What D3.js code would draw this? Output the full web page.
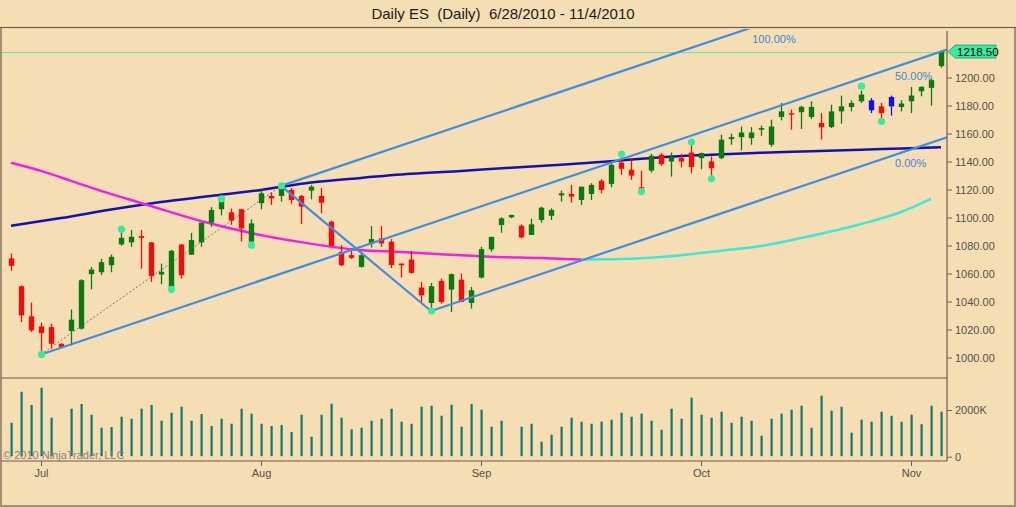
<!DOCTYPE html>
<html>
<head>
<meta charset="utf-8">
<script src="https://cdn.jsdelivr.net/npm/d3@7"></script>
<style>
  html, body { margin: 0; padding: 0; background: #f5deb3; }
  svg { display: block; font-family: "Liberation Sans", Arial, sans-serif; }
</style>
</head>
<body>
<svg id="chart" width="1016" height="507"></svg>
<script>
// ---------- DATA ----------
const dates = ["6/28","6/29","6/30","7/1","7/2","7/5","7/6","7/7","7/8","7/9",
  "7/12","7/13","7/14","7/15","7/16","7/19","7/20","7/21","7/22","7/23",
  "7/26","7/27","7/28","7/29","7/30","8/2","8/3","8/4","8/5","8/6",
  "8/9","8/10","8/11","8/12","8/13","8/16","8/17","8/18","8/19","8/20",
  "8/23","8/24","8/25","8/26","8/27","8/30","8/31","9/1","9/2","9/3",
  "9/6","9/7","9/8","9/9","9/10","9/13","9/14","9/15","9/16","9/17",
  "9/20","9/21","9/22","9/23","9/24","9/27","9/28","9/29","9/30","10/1",
  "10/4","10/5","10/6","10/7","10/8","10/11","10/12","10/13","10/14","10/15",
  "10/18","10/19","10/20","10/21","10/22","10/25","10/26","10/27","10/28","10/29",
  "11/1","11/2","11/3","11/4"];

const openP = [1070.8,1050.9,1029.4,1022.2,1021.7,1009.8,1018.9,1020.6,1059.5,1060.9,
  1065.9,1080.8,1082.2,1086.7,1082.2,1059.3,1050.4,1080.7,1073.4,1082.2,
  1096.3,1105.9,1103.7,1105.9,1082.7,1110.2,1115.4,1115.4,1119.7,1115.4,
  1119.2,1115.4,1097.0,1075.4,1073.1,1064.7,1081.5,1085.0,1082.7,1067.1,
  1070.0,1050.0,1038.9,1054.7,1048.5,1055.6,1038.9,1057.1,1077.2,1094.6,
  1100.1,1094.1,1087.5,1098.2,1101.2,1115.8,1116.8,1112.5,1116.8,1126.2,
  1124.0,1139.2,1134.1,1121.6,1133.5,1144.8,1140.0,1142.4,1146.4,1142.4,
  1140.0,1142.4,1156.0,1157.4,1156.7,1162.7,1152.0,1171.8,1174.5,1175.2,
  1171.8,1167.5,1164.6,1175.8,1178.9,1183.0,1183.7,1179.4,1179.4,1178.9,
  1183.0,1190.2,1192.6,1208.1];
const highP = [1074.3,1051.5,1039.2,1024.9,1024.1,1010.2,1034.2,1055.9,1064.7,1070.5,
  1073.5,1089.4,1091.0,1091.0,1082.5,1067.1,1077.0,1081.0,1089.0,1096.3,
  1107.4,1115.5,1106.4,1105.9,1098.7,1119.7,1117.8,1123.0,1121.1,1116.1,
  1123.3,1121.0,1097.7,1080.3,1076.7,1075.4,1093.9,1093.9,1084.6,1067.1,
  1076.0,1054.0,1053.3,1056.4,1060.0,1060.0,1050.4,1079.1,1086.2,1100.1,
  1102.0,1095.1,1099.1,1107.7,1106.6,1119.2,1123.3,1122.0,1124.5,1127.4,
  1140.0,1143.0,1142.4,1133.5,1145.5,1146.0,1146.5,1145.5,1152.7,1146.4,
  1143.6,1159.1,1159.9,1165.0,1164.6,1165.6,1169.9,1181.8,1177.1,1179.9,
  1183.0,1174.6,1180.6,1187.1,1183.7,1190.7,1185.4,1181.8,1187.1,1183.7,
  1193.3,1193.8,1199.1,1219.5];
const lowP = [1061.9,1025.3,1018.1,1002.6,1006.2,1007.0,1008.6,1019.9,1048.7,1058.9,
  1060.9,1079.8,1079.0,1063.4,1054.0,1052.3,1049.2,1056.4,1073.4,1079.1,
  1093.4,1101.5,1094.8,1083.0,1081.7,1105.9,1109.0,1111.3,1109.9,1095.3,
  1113.0,1103.0,1079.6,1065.2,1070.5,1064.2,1078.6,1079.1,1063.9,1057.1,
  1060.0,1039.6,1033.5,1038.4,1032.5,1039.6,1034.9,1056.4,1075.5,1089.1,
  1099.5,1085.1,1087.5,1096.3,1098.2,1111.3,1110.6,1109.0,1112.5,1117.3,
  1121.6,1130.5,1126.9,1119.4,1132.1,1136.9,1129.2,1135.7,1131.7,1134.5,
  1128.1,1141.7,1152.0,1147.9,1152.0,1158.3,1150.5,1169.4,1162.7,1163.2,
  1170.3,1155.6,1163.9,1167.0,1175.8,1181.8,1174.6,1171.1,1172.8,1175.8,
  1174.6,1186.6,1179.9,1207.0];
const closeP = [1065.4,1030.1,1019.4,1017.4,1009.8,1007.4,1027.0,1055.2,1062.8,1068.1,
  1071.9,1085.5,1086.2,1085.5,1058.1,1061.2,1076.2,1058.8,1083.9,1096.3,
  1105.4,1113.0,1097.7,1092.2,1095.8,1117.3,1113.7,1120.9,1112.5,1107.7,
  1122.0,1110.6,1079.6,1065.9,1071.2,1073.1,1084.6,1081.5,1066.0,1065.9,
  1060.4,1044.4,1050.9,1039.6,1059.5,1039.6,1048.0,1077.4,1086.2,1099.4,
  1101.8,1085.8,1095.1,1107.0,1105.4,1117.3,1114.9,1122.0,1123.3,1119.7,
  1137.6,1134.8,1129.9,1120.8,1144.1,1138.1,1143.1,1140.0,1135.9,1146.0,
  1135.3,1155.6,1157.4,1160.7,1160.7,1163.9,1165.0,1175.8,1173.6,1179.0,
  1179.0,1164.4,1175.8,1179.4,1181.8,1187.8,1176.6,1174.6,1186.1,1181.4,
  1187.1,1193.3,1198.1,1218.5];
const blueBars = [86, 88];

const volumeK = [1456,2784,2214,2955,1670,0,2056,2257,1799,1242,
  1272,1713,1627,2056,2214,1542,1884,2141,1542,1828,
  1315,1627,1413,2056,1842,1413,1315,1358,1058,1799,
  857,1799,2270,1670,1173,1242,1542,1627,2056,1499,
  1413,2141,2184,1756,2227,1285,2257,2013,1285,1542,
  0,1285,1413,642,942,1285,1670,1499,1413,1499,
  1585,1884,1713,1842,1542,1156,2056,1627,2527,1799,
  1670,1927,1456,1713,1542,899,1627,1842,2013,2184,
  1242,2612,1970,2141,1028,1585,1499,1927,1756,1499,
  1799,1387,2184,1927];

// long moving average (dark blue)
const smaIdx = [0,5,10,15,20,25,30,35,40,45,50,55,60,65,70,75,80,85,90,93];
const smaVal = [1094.1,1099.6,1105.7,1111.1,1115.4,1119.7,1125.0,1128.3,1131.2,1133.3,
  1135.5,1137.6,1140.1,1143.0,1144.8,1146.2,1147.3,1148.4,1149.5,1150.2];

// slope-coloured moving average (magenta falling, cyan rising)
const maIdx = [0,3,6,9,13,19,24,29,34,39,43,48,53,57,61,65,71,75,79,85,89,92];
const maVal = [1139.1,1133.3,1126.2,1119.0,1110.4,1097.5,1088.9,1082.4,1077.4,1075.3,
  1073.8,1072.0,1071.0,1070.0,1070.3,1071.7,1076.2,1079.6,1085.3,1095.3,1103.9,1113.3];
const maTurnIdx = 57;

// swing pivots
const pivotIdx = [3,11,16,21,24,27,42,61,63,68,70,85,87];
const pivotPrice = [1002.2,1091.8,1048.7,1113.3,1080.3,1122.6,1033.2,1145.3,1118.5,1153.9,1127.6,1193.8,1168.7];

// Andrews' pitchfork anchors (indices into pivot lists)
const forkPivots = [0, 5, 6];
const forkLabels = ["100.00%", "50.00%", "0.00%"];

const priceTicks = [1000,1020,1040,1060,1080,1100,1120,1140,1160,1180,1200];
const volTicks = [0, 2000];
const monthLabels = ["Jul","Aug","Sep","Oct","Nov"];
const monthIdx = [3,25,47,69,90];
const lastPrice = 1218.50;
const titleText = "Daily ES  (Daily)  6/28/2010 - 11/4/2010";
const copyright = "\u00A9 2010 NinjaTrader, LLC";

// ---------- LAYOUT ----------
const W = 1016, H = 507;
const plotL = 1, plotR = 947, priceTop = 28, priceBot = 378, volBot = 461;
const frameColor = "#6e5d4b", textColor = "#555049";
const upColor = "#0c7a0c", downColor = "#f00d0d", blueColor = "#1010f0";
const forkColor = "#3e8ee2";

const svg = d3.select("#chart");
svg.append("rect").attr("width", W).attr("height", H).attr("fill", "#f5deb3");

const x = d3.scaleLinear().domain([0, 93]).range([11, 941]);
const y = d3.scaleLinear().domain([1000, 1200]).range([357.5, 77.5]);
const yv = d3.scaleLinear().domain([0, 2000]).range([456.7, 410]);

// clip for price panel
const defs = svg.append("defs");
defs.append("clipPath").attr("id", "pclip").append("rect")
  .attr("x", plotL + 1).attr("y", priceTop + 1).attr("width", plotR - plotL - 1).attr("height", priceBot - priceTop - 1);

// title
svg.append("text").attr("x", 503).attr("y", 19).attr("text-anchor", "middle")
  .attr("font-size", 15).attr("fill", "#1a1a1a").style("white-space", "pre").text(titleText);

// frame
svg.append("line").attr("x1", 0).attr("x2", W).attr("y1", 27.5).attr("y2", 27.5).attr("stroke", frameColor).attr("stroke-width", 1.2);
svg.append("rect").attr("x", 1).attr("y", 27.5).attr("width", W - 2).attr("height", H - 28.5)
  .attr("fill", "none").attr("stroke", frameColor).attr("stroke-width", 1.2);
svg.append("line").attr("x1", plotL).attr("x2", plotR).attr("y1", priceBot).attr("y2", priceBot).attr("stroke", frameColor).attr("stroke-width", 1.2);
svg.append("line").attr("x1", plotL).attr("x2", plotR).attr("y1", volBot).attr("y2", volBot).attr("stroke", frameColor).attr("stroke-width", 1.2);

const pg = svg.append("g").attr("clip-path", "url(#pclip)");

// close price line
const closeY = Math.round(y(lastPrice)) + 0.5;
pg.append("line").attr("x1", plotL).attr("x2", plotR).attr("y1", closeY).attr("y2", closeY)
  .attr("stroke", "#7fe29a").attr("stroke-width", 1);

// moving averages
const lineGen = d3.line().x(d => x(d[0])).y(d => y(d[1])).curve(d3.curveMonotoneX);
const smaPts = smaIdx.map((d, i) => [d, smaVal[i]]);
pg.append("path").attr("d", lineGen(smaPts)).attr("fill", "none").attr("stroke", "#1212b0").attr("stroke-width", 2.5);
const maPts = maIdx.map((d, i) => [d, maVal[i]]);
pg.append("path").attr("d", lineGen(maPts.filter(p => p[0] <= maTurnIdx))).attr("fill", "none").attr("stroke", "#f020e6").attr("stroke-width", 2.5);
pg.append("path").attr("d", lineGen(maPts.filter(p => p[0] >= maTurnIdx))).attr("fill", "none").attr("stroke", "#40e6d6").attr("stroke-width", 2.5);

// candles
const candles = pg.append("g");
d3.range(dates.length).forEach(i => {
  const col = blueBars.includes(i) ? blueColor : (closeP[i] >= openP[i] ? upColor : downColor);
  const cx = Math.round(x(i)) + 0.5;
  candles.append("line").attr("x1", cx).attr("x2", cx).attr("y1", y(highP[i])).attr("y2", y(lowP[i]))
    .attr("stroke", col).attr("stroke-width", 1.3);
  const top = y(Math.max(openP[i], closeP[i])), bot = y(Math.min(openP[i], closeP[i]));
  candles.append("rect").attr("x", cx - 2.7).attr("width", 5.4).attr("y", top).attr("height", Math.max(1.4, bot - top))
    .attr("fill", col);
});

// pitchfork
const A = [x(pivotIdx[forkPivots[0]]), y(pivotPrice[forkPivots[0]])];
const B = [x(pivotIdx[forkPivots[1]]), y(pivotPrice[forkPivots[1]])];
const C = [x(pivotIdx[forkPivots[2]]), y(pivotPrice[forkPivots[2]])];
const M = [(B[0] + C[0]) / 2, (B[1] + C[1]) / 2];
const slope = (M[1] - A[1]) / (M[0] - A[0]);
const ext = (P) => [P[0], P[1], plotR, P[1] + slope * (plotR - P[0])];
const forkLines = [ext(B), ext(A), ext(C), [B[0], B[1], C[0], C[1]]];
pg.selectAll("line.fork").data(forkLines).enter().append("line").attr("class", "fork")
  .attr("x1", d => d[0]).attr("y1", d => d[1]).attr("x2", d => d[2]).attr("y2", d => d[3])
  .attr("stroke", forkColor).attr("stroke-width", 2.2);
pg.append("line").attr("x1", A[0]).attr("y1", A[1]).attr("x2", B[0]).attr("y2", B[1])
  .attr("stroke", "#6a5a4a").attr("stroke-width", 0.8).attr("stroke-dasharray", "2,2");

// fork labels
const upperTopX = B[0] + (priceTop + 2 - B[1]) / slope;
const labelPos = [
  [upperTopX + 8, 43],
  [895, A[1] + slope * (895 - A[0]) + 13],
  [895, C[1] + slope * (895 - C[0]) + 12]
];
forkLabels.forEach((t, i) => {
  svg.append("text").attr("x", labelPos[i][0]).attr("y", labelPos[i][1]).attr("font-size", 11)
    .attr("fill", "#3f86d4").text(t);
});

// pivot dots
pg.selectAll("circle.piv").data(pivotIdx).enter().append("circle").attr("class", "piv")
  .attr("cx", d => x(d) + 0.5).attr("cy", (d, i) => y(pivotPrice[i])).attr("r", 3.6).attr("fill", "#38ea9c");

// volume bars
svg.append("g").selectAll("rect").data(volumeK).enter().append("rect")
  .attr("x", (d, i) => Math.round(x(i)) - 0.5).attr("width", 2.2)
  .attr("y", d => yv(d)).attr("height", d => Math.max(0, yv(0) - yv(d) - 0.5))
  .attr("fill", "#11786e");

// copyright
svg.append("text").attr("x", 3).attr("y", 459).attr("font-size", 11).attr("fill", "#8a8278").text(copyright);

// price axis
const pAxis = d3.axisRight(y).tickValues(priceTicks).tickFormat(d3.format(".2f")).tickSize(5).tickPadding(3);
const pa = svg.append("g").attr("transform", `translate(${plotR},0)`).call(pAxis);
pa.select(".domain").remove();
pa.selectAll("line").attr("stroke", frameColor);
pa.selectAll("text").attr("fill", textColor).attr("font-size", 11).attr("font-family", "Liberation Sans, Arial, sans-serif");

// volume axis
const vAxis = d3.axisRight(yv).tickValues(volTicks).tickFormat(d => d === 0 ? "0" : d + "K").tickSize(5).tickPadding(3);
const va = svg.append("g").attr("transform", `translate(${plotR},0)`).call(vAxis);
va.select(".domain").remove();
va.selectAll("line").attr("stroke", frameColor);
va.selectAll("text").attr("fill", textColor).attr("font-size", 11).attr("font-family", "Liberation Sans, Arial, sans-serif");

// right axis line
svg.append("line").attr("x1", plotR).attr("x2", plotR).attr("y1", 31).attr("y2", volBot).attr("stroke", frameColor).attr("stroke-width", 1.2);

// time axis
const tAxis = d3.axisBottom(x).tickValues(monthIdx).tickFormat((d, i) => monthLabels[i]).tickSize(5).tickPadding(3);
const ta = svg.append("g").attr("transform", `translate(0,${volBot})`).call(tAxis);
ta.select(".domain").remove();
ta.selectAll("line").attr("stroke", frameColor);
ta.selectAll("text").attr("fill", textColor).attr("font-size", 11).attr("font-family", "Liberation Sans, Arial, sans-serif");

// last price marker
const ly = y(lastPrice);
svg.append("path")
  .attr("d", `M${plotR + 1},${ly} L${plotR + 8},${ly - 6.5} L${plotR + 49},${ly - 6.5} L${plotR + 49},${ly + 6.5} L${plotR + 8},${ly + 6.5} Z`)
  .attr("fill", "#33eea0").attr("stroke", "#1f9a66").attr("stroke-width", 0.8);
svg.append("text").attr("x", plotR + 10).attr("y", ly + 4).attr("font-size", 11.5).attr("fill", "#000")
  .text(d3.format(".2f")(lastPrice));
</script>
</body>
</html>
